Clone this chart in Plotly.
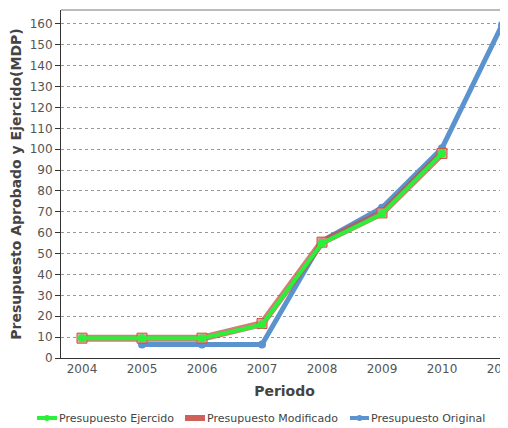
import plotly.graph_objects as go

years_orig = [2005, 2006, 2007, 2008, 2009, 2010, 2011]
original = [6.5, 6.5, 6.5, 56, 72, 100.5, 159.5]
years_mod = [2004, 2005, 2006, 2007, 2008, 2009, 2010]
modificado = [9.5, 9.5, 9.5, 16.5, 55.5, 69.5, 98]
years_ej = [2004, 2005, 2006, 2007, 2008, 2009, 2010]
ejercido = [9.5, 9.5, 9.5, 16, 55, 69, 98]
tick_years = [2004, 2005, 2006, 2007, 2008, 2009, 2010, 2011]
tick_labels = ["2004", "2005", "2006", "2007", "2008", "2009", "2010", "2011"]
series_names = ["Presupuesto Ejercido", "Presupuesto Modificado", "Presupuesto Original"]

FONT = "DejaVu Sans"
GREEN = "#2af03a"
RED = "#d0605a"
BLUE = "#5b93cf"

# page has an 8px body margin; figure is sized/offset to compensate
W, H = 500, 420
ML, MR, MT, MB = 53, 0, 2, 70
PW, PH = W - ML - MR, H - MT - MB
OFF = 8


def px(xpage):
    return (xpage - OFF - ML) / PW


def py(ypage):
    return (H - MB - (ypage - OFF)) / PH


fig = go.Figure()
fig.add_trace(go.Scatter(
    x=years_orig, y=original, name=series_names[2], mode="lines+markers",
    line=dict(color=BLUE, width=5), marker=dict(symbol="circle", size=8, color=BLUE)))
fig.add_trace(go.Scatter(
    x=years_mod, y=modificado, name=series_names[1], mode="lines+markers",
    line=dict(color="rgba(200,80,70,0.75)", width=7),
    marker=dict(symbol="square", size=10, color="rgba(230,150,140,0.8)",
                line=dict(color="#d05040", width=1))))
fig.add_trace(go.Scatter(
    x=years_ej, y=ejercido, name=series_names[0], mode="lines+markers",
    line=dict(color=GREEN, width=4), marker=dict(symbol="circle", size=8, color=GREEN)))

fig.update_layout(
    width=W, height=H,
    margin=dict(l=ML, r=MR, t=MT, b=MB, autoexpand=False),
    paper_bgcolor="white", plot_bgcolor="white",
    font=dict(family=FONT, size=12, color="#555555"),
    showlegend=False,
    xaxis=dict(range=[2003.65, 2011.1], tickvals=tick_years, ticktext=tick_labels,
               showgrid=False, showline=True, linecolor="#333333", linewidth=1,
               ticks="", zeroline=False, automargin=False, ticklabeloverflow="allow",
               title=dict(text="<b>Periodo</b>", font=dict(size=14, color="#444444"), standoff=10)),
    yaxis=dict(range=[0, 166.7], dtick=10, tick0=0, automargin=False,
               showgrid=True, gridcolor="#999999", griddash="dot", gridwidth=1,
               showline=True, linecolor="#333333", linewidth=1,
               ticks="outside", ticklen=5, tickcolor="#333333", zeroline=False,
               title=dict(text="<b>Presupuesto Aprobado y Ejercido(MDP)</b>",
                          font=dict(size=14, color="#444444"), standoff=9)),
)
fig.add_shape(type="line", xref="paper", yref="paper", x0=0, x1=1, y0=1, y1=1,
              line=dict(color="#bbbbbb", width=2))

# manual legend (one row, as in the reference)
legend_y = 418
legend_items = [
    (series_names[0], GREEN, "circle", 37, 57, 58),
    (series_names[1], RED, "rect", 185, 205, 206),
    (series_names[2], BLUE, "circle", 350, 369, 370),
]
for name, col, kind, xs, xe, xt in legend_items:
    if kind == "rect":
        fig.add_shape(type="rect", xref="paper", yref="paper",
                      x0=px(xs), x1=px(xe), y0=py(legend_y + 3), y1=py(legend_y - 3),
                      fillcolor=col, line=dict(width=0))
    else:
        fig.add_shape(type="line", xref="paper", yref="paper",
                      x0=px(xs), x1=px(xe), y0=py(legend_y), y1=py(legend_y),
                      line=dict(color=col, width=4))
        xm = (xs + xe) / 2
        fig.add_shape(type="circle", xref="paper", yref="paper",
                      x0=px(xm - 3), x1=px(xm + 3), y0=py(legend_y + 3), y1=py(legend_y - 3),
                      fillcolor=col, line=dict(width=0))
    fig.add_annotation(text=name, xref="paper", yref="paper", x=px(xt), y=py(legend_y),
                       xanchor="left", yanchor="middle", showarrow=False, xshift=-1,
                       font=dict(family=FONT, size=11, color="#444444"))

fig.write_html("out.html")
